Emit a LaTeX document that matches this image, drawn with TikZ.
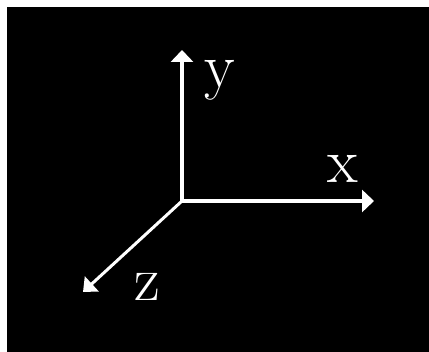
\documentclass[tikz,border=0pt]{standalone}
\usepackage{fontspec}
\usetikzlibrary{arrows.meta}
\tikzset{
  axisln/.style={-{Triangle[length=6pt,width=11pt]}, line width=2pt, white},
  diagln/.style={-{Triangle[length=6pt,width=10pt]}, line width=1.5pt, white},
  axlabel/.style={white, anchor=base west, inner sep=0pt, font=\fontsize{31.5}{32}\selectfont},
}
\begin{document}
\begin{tikzpicture}[x=0.5pt, y=0.5pt]
    \useasboundingbox (0,0) rectangle (429,352);
    \fill[white] (0,0) rectangle (429,352);
    \fill[black] (7,0) rectangle (429,345);
    \coordinate (o) at (182,151);
    \coordinate (ytip) at (182,302);
    \coordinate (xtip) at (374,151);
    \coordinate (ztip) at (83,60);
    \draw[axisln] (o) -- (ytip);
    \draw[axisln] (o) -- (xtip);
    \draw[diagln] (o) -- (ztip);
    \node[axlabel] (ylab) at (204,264) {y};
    \node[axlabel] (xlab) at (327,169) {x};
    \node[axlabel] (zlab) at (134,51) {z};
  \end{tikzpicture}
\end{document}
